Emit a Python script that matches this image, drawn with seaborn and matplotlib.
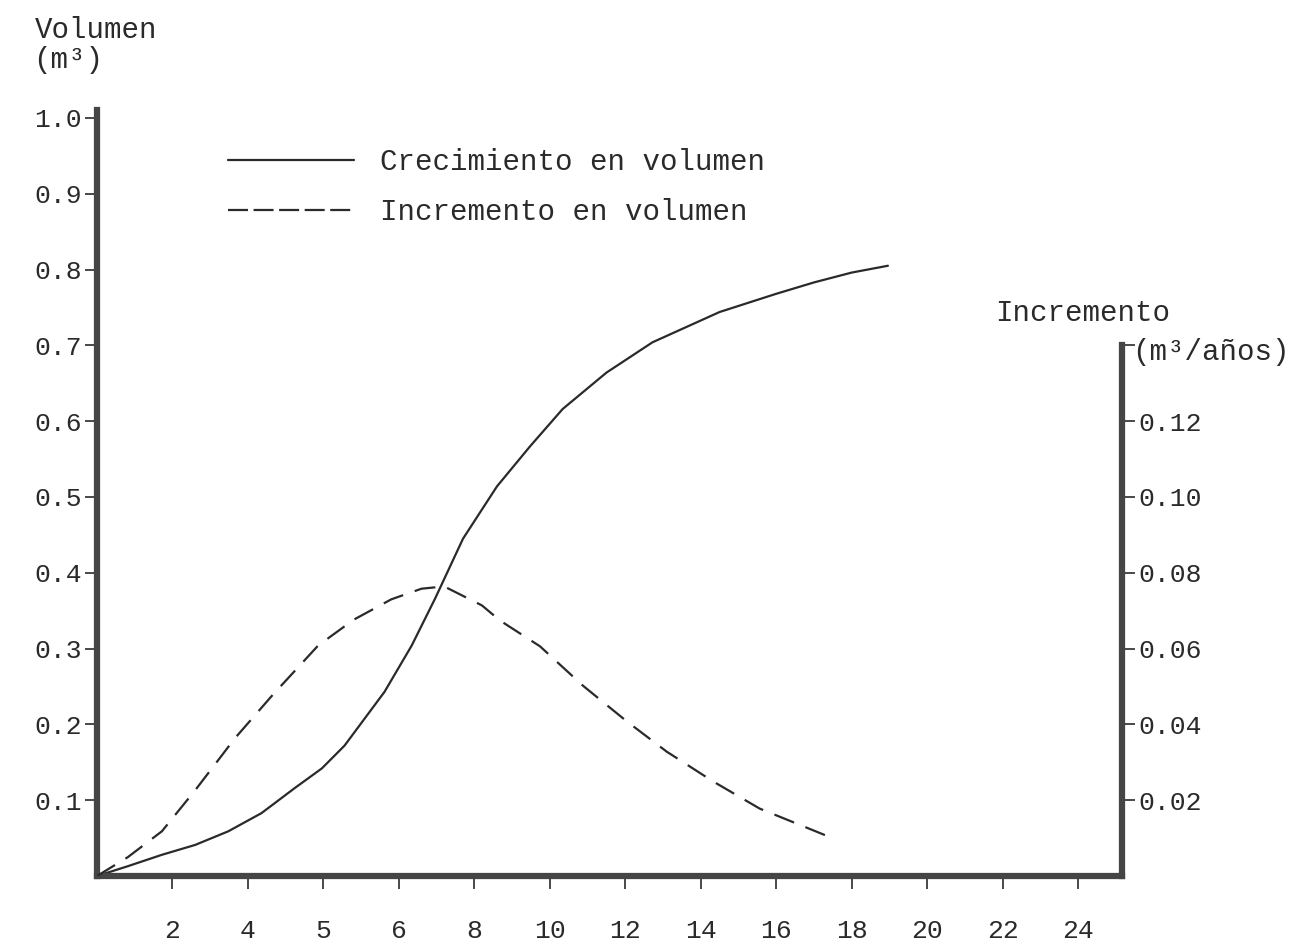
# volumen: crecimiento e incremento
import seaborn as sns
import matplotlib.pyplot as plt
import pandas as pd

# x positions are equally spaced ticks, labels as printed on the original
tick_pos = [1, 2, 3, 4, 5, 6, 7, 8, 9, 10, 11, 12, 13]
tick_labels = ['2', '4', '5', '6', '8', '10', '12', '14', '16', '18', '20', '22', '24']

# crecimiento en volumen (m3), left axis
crec_x = [0, 0.41, 0.86, 1.30, 1.74, 2.18, 2.62, 2.98, 3.28, 3.81, 4.17,
          4.48, 4.85, 5.30, 5.74, 6.17, 6.75, 7.36, 8.25, 9.0, 9.5, 10.0, 10.48]
crec_y = [0, 0.013, 0.028, 0.041, 0.059, 0.083, 0.116, 0.142, 0.172, 0.243,
          0.304, 0.366, 0.445, 0.514, 0.567, 0.616, 0.664, 0.704, 0.744,
          0.768, 0.783, 0.796, 0.805]

# incremento en volumen (m3/años), right axis
inc_x = [0, 0.41, 0.86, 1.30, 1.83, 2.32, 2.93, 3.40, 3.90, 4.30, 4.6,
         5.1, 5.34, 5.87, 6.44, 7.02, 7.55, 8.16, 8.78, 9.67]
inc_y = [0, 0.0050, 0.0118, 0.0226, 0.0364, 0.0476, 0.0608, 0.0676, 0.0730,
         0.0758, 0.0764, 0.0714, 0.0674, 0.0606, 0.0502, 0.0408, 0.0328,
         0.025, 0.0178, 0.0106]

left_ticks = [0.1, 0.2, 0.3, 0.4, 0.5, 0.6, 0.7, 0.8, 0.9, 1.0]
left_labels = ['0.1', '0.2', '0.3', '0.4', '0.5', '0.6', '0.7', '0.8', '0.9', '1.0']
right_ticks = [0.02, 0.04, 0.06, 0.08, 0.10, 0.12, 0.14]
right_labels = ['0.02', '0.04', '0.06', '0.08', '0.10', '0.12', '']

df_c = pd.DataFrame({'x': crec_x, 'y': crec_y})
df_i = pd.DataFrame({'x': inc_x, 'y': inc_y})

sns.set_style('white')
plt.rcParams['font.family'] = ['Liberation Mono', 'DejaVu Sans']
ink = '#2a2a2a'
axis_col = '#454545'

fig = plt.figure(figsize=(13.14, 9.52), dpi=100)
ax = fig.add_axes([0.0738, 0.0798, 0.780, 0.8047])
ax2 = ax.twinx()

sns.lineplot(data=df_c, x='x', y='y', ax=ax, color=ink, lw=1.6,
             label='Crecimiento en volumen', sort=False)
sns.lineplot(data=df_i, x='x', y='y', ax=ax2, color=ink, lw=1.6,
             label='Incremento en volumen', sort=False)
ax2.lines[0].set_dashes((9.5, 5.5))

ax.set_xlim(0, 13.58)
ax.set_ylim(0, 1.0105)
ax2.set_ylim(0, 1.0105 * 0.2)

ax.set_xticks(tick_pos)
ax.set_xticklabels(tick_labels)
ax.set_yticks(left_ticks)
ax.set_yticklabels(left_labels)
ax2.set_yticks(right_ticks)
ax2.set_yticklabels(right_labels)
ax.set_xlabel('')
ax.set_ylabel('')
ax2.set_ylabel('')

for s in ['top', 'right']:
    ax.spines[s].set_visible(False)
for s in ['top', 'left', 'bottom']:
    ax2.spines[s].set_visible(False)
for sp in [ax.spines['left'], ax.spines['bottom'], ax2.spines['right']]:
    sp.set_linewidth(4.5)
    sp.set_color(axis_col)
ax2.spines['right'].set_bounds(0, 0.14)

ax.tick_params(axis='y', left=True, direction='out', length=9, width=1.2,
               color=ink, pad=2, labelsize=19, labelcolor=ink)
ax.tick_params(axis='x', bottom=True, direction='out', length=9, width=1.2,
               color=ink, pad=22, labelsize=19, labelcolor=ink)
ax2.tick_params(axis='y', right=True, direction='out', length=9, width=1.2,
                color=ink, pad=3, labelsize=19, labelcolor=ink)

# legend built from both axes
h1, l1 = ax.get_legend_handles_labels()
h2, l2 = ax2.get_legend_handles_labels()
ax2.get_legend().remove()
leg = ax.legend(h1 + h2, l1 + l2, loc='upper left', bbox_to_anchor=(0.128, 0.95),
                frameon=False, fontsize=21, handlelength=4.3, handletextpad=0.9,
                labelspacing=0.75, borderpad=0, borderaxespad=0, labelcolor=ink)
leg.get_lines()[1].set_dashes((9.0, 2.5))

# axis titles as typed on the original
fig.text(35 / 1314, 1 - 30 / 952, 'Volumen', fontsize=21, color=ink, va='center')
fig.text(33 / 1314, 1 - 60 / 952, '(m³)', fontsize=21, color=ink, va='center')
fig.text(995 / 1314, 1 - 313 / 952, 'Incremento', fontsize=21, color=ink, va='center')
fig.text(1132 / 1314, 1 - 352 / 952, '(m³/años)', fontsize=21, color=ink, va='center')

plt.savefig('out.png', dpi=100, facecolor='white')
